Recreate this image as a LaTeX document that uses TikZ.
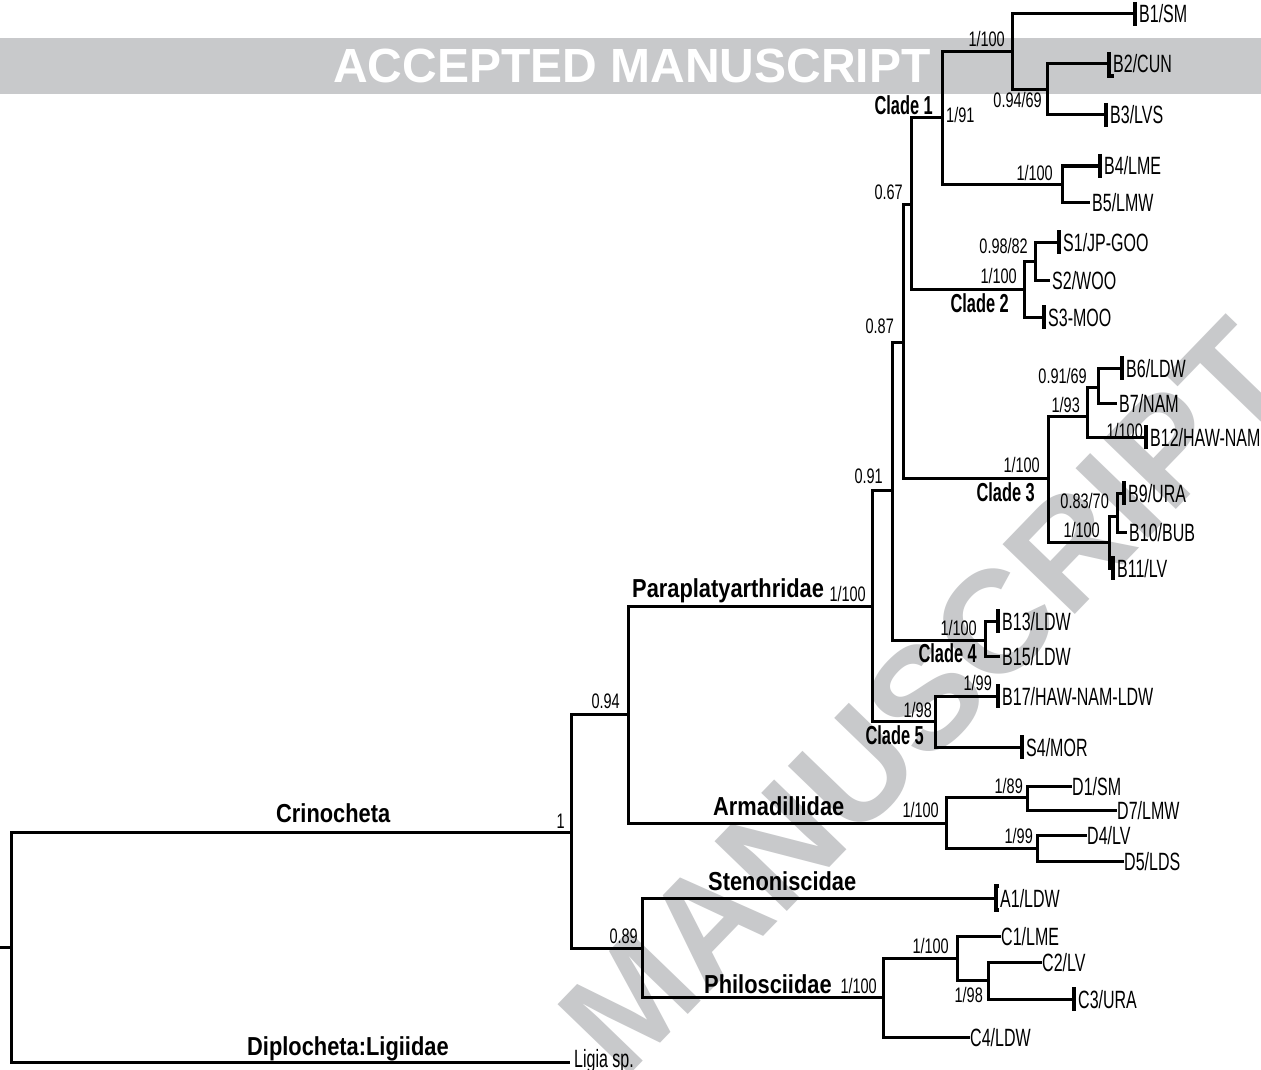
\documentclass[tikz,border=0pt]{standalone}
\usepackage{fontspec}
\newfontfamily\tipf[FakeStretch=0.64]{Liberation Sans}
\newfontfamily\supf[FakeStretch=0.69]{Liberation Sans}
\newfontfamily\famf[FakeStretch=0.84]{Liberation Sans}
\newfontfamily\cladf[FakeStretch=0.63]{Liberation Sans}
\newfontfamily\wmf{Liberation Sans}
\definecolor{wm}{RGB}{200,201,203}
\begin{document}
\begin{tikzpicture}[x=1pt,y=-1pt,
  br/.style={line width=3pt, line join=miter},
  tk/.style={line width=3.5pt},
  tip/.style={font=\tipf\fontsize{25}{25}\selectfont, anchor=base west, inner sep=0pt, yshift=-9pt},
  tipt/.style={tip, xshift=4pt},
  tipn/.style={tip, xshift=2pt},
  sup/.style={font=\supf\fontsize{21}{21}\selectfont, anchor=base east, inner sep=0pt},
  fam/.style={font=\famf\bfseries\fontsize{26}{26}\selectfont, anchor=base west, inner sep=0pt},
  clade/.style={font=\cladf\bfseries\fontsize{26}{26}\selectfont, anchor=base east, inner sep=0pt}]
\useasboundingbox (0,0) rectangle (1261,1070);
\fill[white] (0,0) rectangle (1261,1070);
% banner and watermark
\fill[wm] (0,38) rectangle (1261,94);
\node[name=banner, anchor=base west, inner sep=0pt, text=white, font=\wmf\bfseries\fontsize{48}{48}\selectfont] at (333,83) {ACCEPTED MANUSCRIPT};
\node[name=wmark, rotate=46, text=wm, inner sep=0pt, font=\wmf\bfseries\fontsize{146}{146}\selectfont] at (925,697) {MANUSCRIPT};
% coordinates
\coordinate (stub) at (0,947);
\coordinate (r) at (11,947);
\coordinate (c) at (571,832);
\coordinate (lig) at (570,1062);
\coordinate (n094) at (628,714);
\coordinate (n089) at (642,948);
\coordinate (para) at (872,606);
\coordinate (arma) at (946,823);
\coordinate (n091) at (892,490);
\coordinate (cl5) at (935,721);
\coordinate (n087) at (903,342);
\coordinate (cl4) at (985,640);
\coordinate (n067) at (911,204);
\coordinate (cl3) at (1048,478);
\coordinate (cl1) at (942,118);
\coordinate (cl2) at (1024,289);
\coordinate (a1) at (1012,52);
\coordinate (a2) at (1062,184);
\coordinate (a3) at (1047,90);
\coordinate (tB1) at (1135,14);
\coordinate (tB2) at (1109,64);
\coordinate (tB3) at (1106,115);
\coordinate (tB4) at (1100,166);
\coordinate (tB5) at (1090,202);
\coordinate (b1) at (1035,261);
\coordinate (tS1) at (1059,242);
\coordinate (tS2) at (1050,280);
\coordinate (tS3) at (1044,317);
\coordinate (c1) at (1087,416);
\coordinate (c2) at (1098,387);
\coordinate (tB6) at (1122,368);
\coordinate (tB7) at (1117,403);
\coordinate (tB12) at (1146,437);
\coordinate (d1) at (1109,542);
\coordinate (d2) at (1117,516);
\coordinate (tB9) at (1124,493);
\coordinate (tB10) at (1127,532);
\coordinate (tB11) at (1113,568);
\coordinate (tB13) at (998,621);
\coordinate (tB15) at (1000,656);
\coordinate (tB17) at (998,696);
\coordinate (tS4) at (1022,747);
\coordinate (e1) at (1027,797);
\coordinate (e2) at (1037,848);
\coordinate (tD1) at (1072,786);
\coordinate (tD7) at (1117,810);
\coordinate (tD4) at (1087,835);
\coordinate (tD5) at (1124,861);
\coordinate (tA1) at (996,898);
\coordinate (phil) at (883,997);
\coordinate (f1) at (957,958);
\coordinate (f2) at (988,980);
\coordinate (tC1) at (1001,936);
\coordinate (tC2) at (1042,962);
\coordinate (tC3) at (1074,999);
\coordinate (tC4) at (970,1037);
% branches
\draw[br] (stub) -- (r);
\draw[br] (r) |- (c);
\draw[br] (r) |- (lig);
\draw[br] (c) |- (n094);
\draw[br] (c) |- (n089);
\draw[br] (n094) |- (para);
\draw[br] (n094) |- (arma);
\draw[br] (para) |- (n091);
\draw[br] (para) |- (cl5);
\draw[br] (n091) |- (n087);
\draw[br] (n091) |- (cl4);
\draw[br] (n087) |- (n067);
\draw[br] (n087) |- (cl3);
\draw[br] (n067) |- (cl1);
\draw[br] (n067) |- (cl2);
\draw[br] (cl1) |- (a1);
\draw[br] (cl1) |- (a2);
\draw[br] (a1) |- (tB1);
\draw[br] (a1) |- (a3);
\draw[br] (a3) |- (tB2);
\draw[br] (a3) |- (tB3);
\draw[br] (a2) |- (tB4);
\draw[br] (a2) |- (tB5);
\draw[br] (cl2) |- (b1);
\draw[br] (cl2) |- (tS3);
\draw[br] (b1) |- (tS1);
\draw[br] (b1) |- (tS2);
\draw[br] (cl3) |- (c1);
\draw[br] (cl3) |- (d1);
\draw[br] (c1) |- (c2);
\draw[br] (c1) |- (tB12);
\draw[br] (c2) |- (tB6);
\draw[br] (c2) |- (tB7);
\draw[br] (d1) |- (d2);
\draw[br] (d1) |- (tB11);
\draw[br] (d2) |- (tB9);
\draw[br] (d2) |- (tB10);
\draw[br] (cl4) |- (tB13);
\draw[br] (cl4) |- (tB15);
\draw[br] (cl5) |- (tB17);
\draw[br] (cl5) |- (tS4);
\draw[br] (arma) |- (e1);
\draw[br] (arma) |- (e2);
\draw[br] (e1) |- (tD1);
\draw[br] (e1) |- (tD7);
\draw[br] (e2) |- (tD4);
\draw[br] (e2) |- (tD5);
\draw[br] (n089) |- (tA1);
\draw[br] (n089) |- (phil);
\draw[br] (phil) |- (f1);
\draw[br] (phil) |- (tC4);
\draw[br] (f1) |- (tC1);
\draw[br] (f1) |- (f2);
\draw[br] (f2) |- (tC2);
\draw[br] (f2) |- (tC3);
% tip ticks
\foreach \t in {tB1,tB3,tB4,tS1,tS3,tB6,tB12,tB9,tB11,tB13,tB17,tS4,tC3}
  \draw[tk] ([yshift=12pt]\t) -- ([yshift=-12pt]\t);
\draw[tk] ([yshift=12pt]tB2) -- ([yshift=-12pt]tB2) -- ([xshift=5pt,yshift=-12pt]tB2);
\draw[tk] ([xshift=3pt,yshift=12pt]tA1) -- ([yshift=12pt]tA1) -- ([yshift=-12pt]tA1) -- ([xshift=3pt,yshift=-12pt]tA1);
% tip labels
\node[tipt, name=lB1] at (tB1) {B1/SM};
\node[tipt, name=lB2] at (tB2) {B2/CUN};
\node[tipt, name=lB3] at (tB3) {B3/LVS};
\node[tipt, name=lB4] at (tB4) {B4/LME};
\node[tipn, name=lB5] at (tB5) {B5/LMW};
\node[tipt, name=lS1] at (tS1) {S1/JP-GOO};
\node[tipn, name=lS2] at (tS2) {S2/WOO};
\node[tipt, name=lS3] at (tS3) {S3-MOO};
\node[tipt, name=lB6] at (tB6) {B6/LDW};
\node[tipn, name=lB7] at (tB7) {B7/NAM};
\node[tipt, name=lB12] at (tB12) {B12/HAW-NAM};
\node[tipt, name=lB9] at (tB9) {B9/URA};
\node[tipn, name=lB10] at (tB10) {B10/BUB};
\node[tipt, name=lB11] at (tB11) {B11/LV};
\node[tipt, name=lB13] at (tB13) {B13/LDW};
\node[tipn, name=lB15] at (tB15) {B15/LDW};
\node[tipt, name=lB17] at (tB17) {B17/HAW-NAM-LDW};
\node[tipt, name=lS4] at (tS4) {S4/MOR};
\node[tip, name=lD1] at (tD1) {D1/SM};
\node[tip, name=lD7] at (tD7) {D7/LMW};
\node[tip, name=lD4] at (tD4) {D4/LV};
\node[tip, name=lD5] at (tD5) {D5/LDS};
\node[tipt, name=lA1] at (tA1) {A1/LDW};
\node[tip, name=lC1] at (tC1) {C1/LME};
\node[tip, name=lC2] at (tC2) {C2/LV};
\node[tipt, name=lC3] at (tC3) {C3/URA};
\node[tip, name=lC4] at (tC4) {C4/LDW};
\node[tipt, yshift=4pt, name=lLig] at (lig) {Ligia sp.};
% support values
\node[sup, name=s1] at (1005,47) {1/100};
\node[sup, name=s2] at (1042,108) {0.94/69};
\node[sup, anchor=base west, name=s3] at (946,123) {1/91};
\node[sup, name=s4] at (1053,180) {1/100};
\node[sup, name=s5] at (903,199) {0.67};
\node[sup, name=s6] at (1028,253) {0.98/82};
\node[sup, name=s7] at (1017,283) {1/100};
\node[sup, name=s8] at (894,333) {0.87};
\node[sup, name=s9] at (1087,383) {0.91/69};
\node[sup, name=s10] at (1080,412) {1/93};
\node[sup, name=s11] at (1143,438) {1/100};
\node[sup, name=s12] at (1040,472) {1/100};
\node[sup, name=s13] at (883,483) {0.91};
\node[sup, name=s14] at (1109,508) {0.83/70};
\node[sup, name=s15] at (1100,537) {1/100};
\node[sup, name=s16] at (977,635) {1/100};
\node[sup, name=s17] at (866,601) {1/100};
\node[sup, name=s18] at (992,690) {1/99};
\node[sup, name=s19] at (932,717) {1/98};
\node[sup, name=s20] at (1023,793) {1/89};
\node[sup, name=s21] at (939,817) {1/100};
\node[sup, name=s22] at (1033,843) {1/99};
\node[sup, name=s23] at (620,708) {0.94};
\node[sup, name=s24] at (565,828) {1};
\node[sup, name=s25] at (638,943) {0.89};
\node[sup, name=s26] at (877,993) {1/100};
\node[sup, name=s27] at (949,953) {1/100};
\node[sup, name=s28] at (983,1002) {1/98};
% clade labels
\node[clade, name=k1] at (933,115) {Clade 1};
\node[clade, name=k2] at (1009,312) {Clade 2};
\node[clade, name=k3] at (1035,501) {Clade 3};
\node[clade, name=k4] at (977,662) {Clade 4};
\node[clade, name=k5] at (924,744) {Clade 5};
% family labels
\node[fam, name=fPara] at (632,597) {Paraplatyarthridae};
\node[fam, name=fCrino] at (276,822) {Crinocheta};
\node[fam, name=fArma] at (713,815) {Armadillidae};
\node[fam, name=fSten] at (708,890) {Stenoniscidae};
\node[fam, name=fPhil] at (704,993) {Philosciidae};
\node[fam, name=fDipl] at (247,1055) {Diplocheta:Ligiidae};
\end{tikzpicture}
\end{document}
